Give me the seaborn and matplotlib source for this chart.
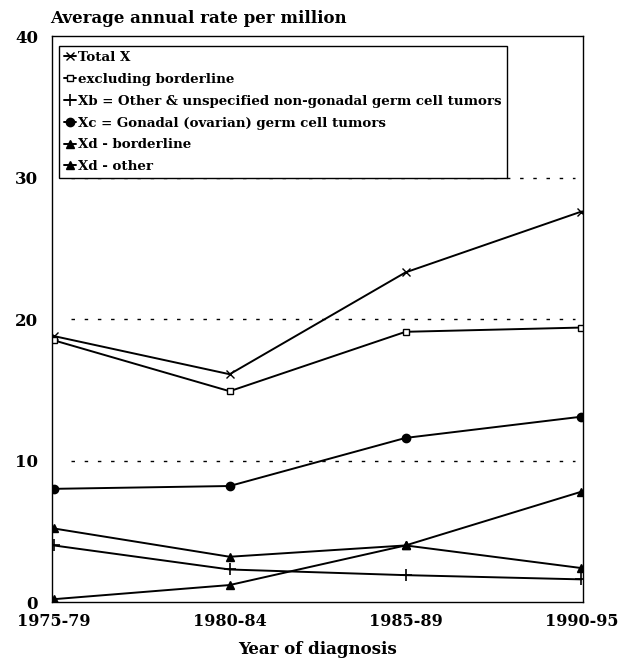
import matplotlib
matplotlib.use("Agg")
import matplotlib.pyplot as plt
import seaborn as sns
import pandas as pd

periods = ["1975-79", "1980-84", "1985-89", "1990-95"]
total_x = [18.8, 16.1, 23.3, 27.6]
excl_borderline = [18.5, 14.9, 19.1, 19.4]
xb_other = [4.0, 2.3, 1.9, 1.6]
xc_gonadal = [8.0, 8.2, 11.6, 13.1]
xd_borderline = [0.2, 1.2, 4.0, 7.8]
xd_other = [5.2, 3.2, 4.0, 2.4]

series_names = [
    "Total X",
    "excluding borderline",
    "Xb = Other & unspecified non-gonadal germ cell tumors",
    "Xc = Gonadal (ovarian) germ cell tumors",
    "Xd - borderline",
    "Xd - other",
]
series_values = [total_x, excl_borderline, xb_other, xc_gonadal, xd_borderline, xd_other]
y_ticks = [0, 10, 20, 30, 40]

rows = []
for name, vals in zip(series_names, series_values):
    for p, v in zip(periods, vals):
        rows.append({"period": p, "rate": v, "series": name})
df = pd.DataFrame(rows)

sns.set_theme(style="white")
plt.rcParams["font.family"] = ["DejaVu Serif"]
plt.rcParams["font.weight"] = "bold"
plt.rcParams["text.color"] = "black"
plt.rcParams["axes.labelcolor"] = "black"
plt.rcParams["xtick.color"] = "black"
plt.rcParams["ytick.color"] = "black"

fig = plt.figure(figsize=(6.37, 6.65), dpi=100)
ax = fig.add_axes([0.0816, 0.0947, 0.834, 0.851])

marker_styles = {
    "Total X": dict(marker="x", ms=6, mew=1.0, mfc="black"),
    "excluding borderline": dict(marker="s", ms=5, mew=1.0, mfc="white"),
    "Xb = Other & unspecified non-gonadal germ cell tumors": dict(marker="+", ms=8, mew=1.2, mfc="black"),
    "Xc = Gonadal (ovarian) germ cell tumors": dict(marker="o", ms=6, mew=1.0, mfc="black"),
    "Xd - borderline": dict(marker="^", ms=6, mew=1.0, mfc="black"),
    "Xd - other": dict(marker="^", ms=6, mew=1.0, mfc="black"),
}

for name in series_names:
    sub = df[df["series"] == name]
    st = marker_styles[name]
    sns.lineplot(data=sub, x="period", y="rate", ax=ax, color="black", lw=1.4,
                 marker=st["marker"], markersize=st["ms"], markeredgewidth=st["mew"],
                 markerfacecolor=st["mfc"], markeredgecolor="black", label=name,
                 sort=False)

ax.set_ylim(0, 40)
ax.set_xlim(-0.01, 3.01)
ax.set_yticks(y_ticks)
ax.set_yticklabels([str(t) for t in y_ticks], fontsize=12, fontweight="bold")
ax.set_xticks(range(len(periods)))
ax.set_xticklabels(periods, fontsize=11.5, fontweight="bold")
ax.tick_params(axis="x", length=0, pad=8)
ax.tick_params(axis="y", length=0, pad=10)

for y in [10, 20, 30]:
    ax.axhline(y, xmin=0.035, xmax=0.985, color="black", lw=1.0, ls=(0, (2.5, 7)), zorder=0.5)

for s in ax.spines.values():
    s.set_color("black")
    s.set_linewidth(1.0)

ax.set_xlabel("Year of diagnosis", fontsize=12, fontweight="bold", labelpad=8, color="black")
ax.set_ylabel("")
fig.text(0.0785, 0.972, "Average annual rate per million", fontsize=12,
         fontweight="bold", ha="left", va="center", color="black")

leg = ax.legend(loc="upper left", bbox_to_anchor=(0.005, 0.99), frameon=True,
                fancybox=False, edgecolor="black", framealpha=1.0, handlelength=0.9,
                handletextpad=0.15, borderpad=0.4, labelspacing=0.66,
                borderaxespad=0.3, prop={"weight": "bold", "size": 9.6})
leg.get_frame().set_linewidth(1.0)
leg.set_zorder(5)
for t in leg.get_texts():
    t.set_color("black")

fig.savefig("out.png", dpi=100, facecolor="white")
